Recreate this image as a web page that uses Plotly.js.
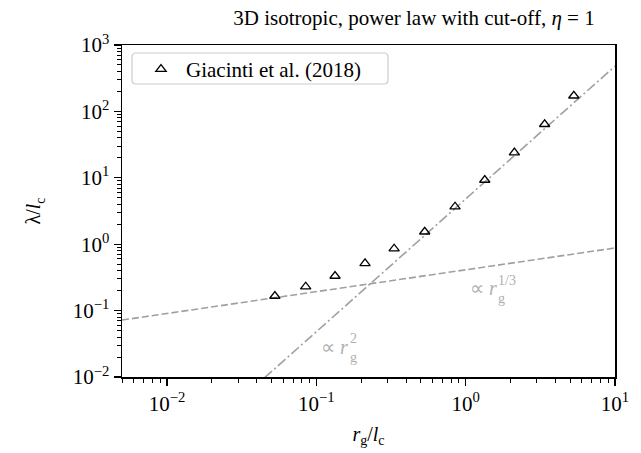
<!DOCTYPE html>
<html>
<head>
<meta charset="utf-8">
<script src="https://cdn.plot.ly/plotly-3.0.1.min.js"></script>
<style>
  html, body { margin: 0; padding: 0; background: #ffffff; }
  #chart { width: 641px; height: 453px; }
</style>
</head>
<body>
<div id="chart"></div>
<script>
// Mean free path vs gyro-radius (both in units of the coherence length)
const rgOverLc = [0.0528, 0.0849, 0.1335, 0.212, 0.332, 0.532, 0.849, 1.343, 2.12, 3.38, 5.30];
const lambdaOverLc = [0.166, 0.229, 0.332, 0.515, 0.855, 1.54, 3.67, 9.26, 23.9, 64.0, 172];

// Reference power laws (end points of straight lines in log-log space)
const slowX = [0.005, 10];
const slowY = [0.072, 0.877];      // proportional to r_g^(1/3)
const steepX = [0.045, 10];
const steepY = [0.00972, 480];     // proportional to r_g^2

const xTickVals = [0.01, 0.1, 1, 10];
const xTickText = ['10<sup>\u22122</sup>', '10<sup>\u22121</sup>', '10<sup>0</sup>', '10<sup>1</sup>'];
const yTickVals = [0.01, 0.1, 1, 10, 100, 1000];
const yTickText = ['10<sup>\u22122</sup>', '10<sup>\u22121</sup>', '10<sup>0</sup>', '10<sup>1</sup>', '10<sup>2</sup>', '10<sup>3</sup>'];

const serif = 'Liberation Serif, Times New Roman, serif';
const refGray = '#a0a0a0';
const labelGray = '#b0b0b0';

// plot-area geometry, used to place the legend frame and slope labels
const W = 641, H = 453;
const M = { l: 122, r: 26, t: 45, b: 76 };
const PW = W - M.l - M.r, PH = H - M.t - M.b;
const px = v => (v - M.l) / PW;
const py = v => (H - M.b - v) / PH;

function roundedRect(x0, y0, x1, y1, r) {
  const rx = r / PW, ry = r / PH;
  const a = px(x0), b = px(x1), top = py(y0), bot = py(y1);
  return `M ${a + rx} ${top} L ${b - rx} ${top} Q ${b} ${top} ${b} ${top - ry} ` +
         `L ${b} ${bot + ry} Q ${b} ${bot} ${b - rx} ${bot} ` +
         `L ${a + rx} ${bot} Q ${a} ${bot} ${a} ${bot + ry} ` +
         `L ${a} ${top - ry} Q ${a} ${top} ${a + rx} ${top} Z`;
}

const traces = [
  {
    x: slowX, y: slowY, type: 'scatter', mode: 'lines',
    line: { color: refGray, width: 1.6, dash: '7px,3px' },
    showlegend: false, hoverinfo: 'skip'
  },
  {
    x: steepX, y: steepY, type: 'scatter', mode: 'lines',
    line: { color: refGray, width: 1.6, dash: '10px,3px,2px,3px' },
    showlegend: false, hoverinfo: 'skip'
  },
  {
    x: rgOverLc, y: lambdaOverLc, type: 'scatter', mode: 'markers',
    name: 'Giacinti et al. (2018)',
    marker: { symbol: 'triangle-up-open', size: 9, color: '#000000', line: { width: 1.3, color: '#000000' } }
  }
];

const axisCommon = {
  type: 'log',
  showgrid: false,
  zeroline: false,
  showline: true,
  linecolor: '#000000',
  linewidth: 1.5,
  mirror: true,
  ticks: 'outside',
  ticklen: 7,
  tickwidth: 1.2,
  tickcolor: '#000000',
  tickfont: { family: serif, size: 21, color: '#000000' },
  minor: { ticks: 'outside', ticklen: 4, tickwidth: 1, tickcolor: '#000000', dtick: 'D1', showgrid: false }
};

function label(text, x, y, xanchor, size) {
  return {
    text: text, x: px(x), y: py(y), xref: 'paper', yref: 'paper',
    xanchor: xanchor, yanchor: 'middle', showarrow: false, borderpad: 0,
    font: { family: serif, size: size, color: labelGray }
  };
}

const layout = {
  width: W,
  height: H,
  margin: M,
  paper_bgcolor: '#ffffff',
  plot_bgcolor: '#ffffff',
  font: { family: serif, color: '#000000' },
  title: {
    text: '3D isotropic, power law with cut-off, <i>\u03b7</i> = 1',
    font: { family: serif, size: 21, color: '#000000' },
    x: 414 / W, xanchor: 'center', xref: 'container',
    y: 1 - 18 / H, yanchor: 'middle'
  },
  xaxis: Object.assign({}, axisCommon, {
    range: [Math.log10(0.005), 1],
    tickvals: xTickVals, ticktext: xTickText,
    title: { text: '<i>r</i><sub>g</sub>/<i>l</i><sub>c</sub>', font: { family: serif, size: 20, color: '#000000' }, standoff: 12 }
  }),
  yaxis: Object.assign({}, axisCommon, {
    range: [-2, 3],
    tickvals: yTickVals, ticktext: yTickText,
    title: { text: '\u03bb/<i>l</i><sub>c</sub>', font: { family: serif, size: 20, color: '#000000' }, standoff: 26 }
  }),
  legend: {
    x: px(136), y: py(49), xanchor: 'left', yanchor: 'top',
    bgcolor: 'rgba(0,0,0,0)',
    borderwidth: 0,
    itemwidth: 40,
    font: { family: serif, size: 21, color: '#000000' }
  },
  shapes: [
    {
      type: 'path', xref: 'paper', yref: 'paper', layer: 'below',
      path: roundedRect(132, 53, 388, 84, 4),
      line: { color: '#cccccc', width: 1.2 },
      fillcolor: 'rgba(255,255,255,0.8)'
    }
  ],
  annotations: [
    label('\u221d <i>r</i>', 349, 347, 'right', 20),
    label('g', 349, 357, 'left', 14),
    label('2', 349, 338, 'left', 14),
    label('\u221d <i>r</i>', 498, 288, 'right', 20),
    label('g', 497, 298, 'left', 14),
    label('1/3', 497, 280, 'left', 14)
  ],
  showlegend: true
};

Plotly.newPlot('chart', traces, layout, { staticPlot: true, displayModeBar: false });
</script>
</body>
</html>
